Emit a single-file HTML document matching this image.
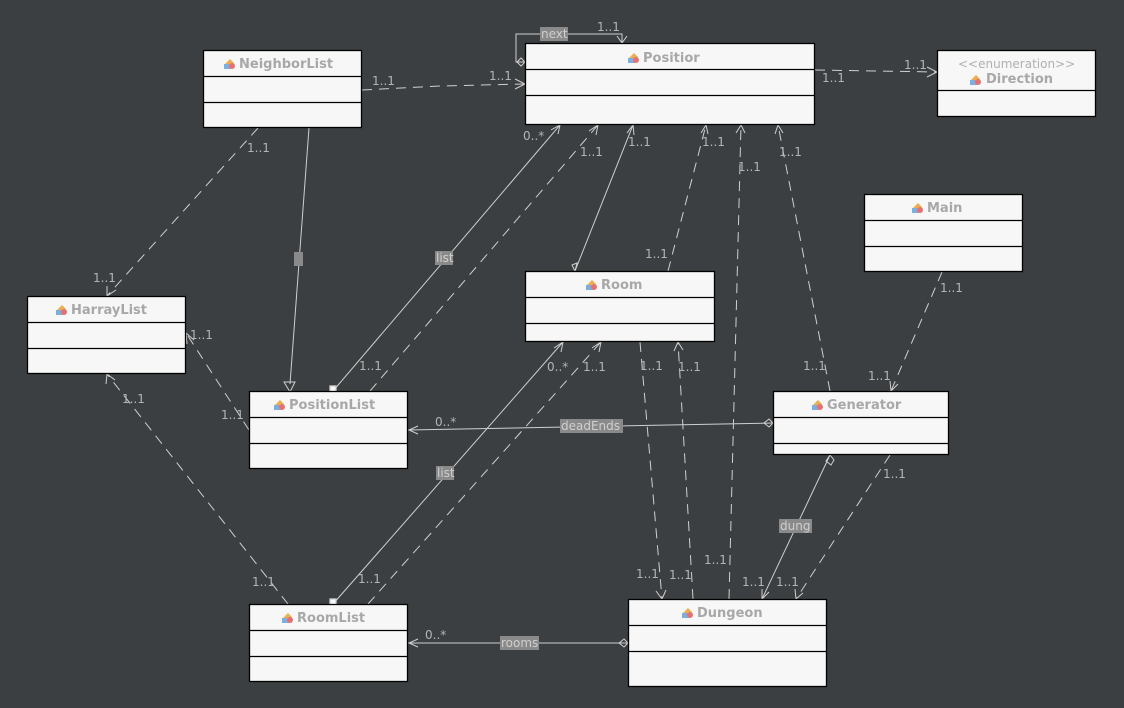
<!DOCTYPE html>
<html><head><style>
body{margin:0;background:#3c3f41;}
svg{display:block}
text{font-family:"DejaVu Sans","Liberation Sans",sans-serif;font-size:12px;fill:#b4b4b4}
.t{font-weight:bold;font-size:13px;fill:#a8a8a8}
.b{fill:#f7f7f7;stroke:#000;stroke-width:1.3}
.s{stroke:#cfcfcf;stroke-width:1;fill:none}
.d{stroke:#cfcfcf;stroke-width:1;fill:none;stroke-dasharray:10 7}
.lb{fill:#8a8a8a}
.lt{fill:#cfcfcf}
</style></head><body>
<svg width="1124" height="708" viewBox="0 0 1124 708" xmlns="http://www.w3.org/2000/svg">
<defs>
<g id="ic"><path d="M0,8 L6,2 L10,6 L4,12Z" fill="#e8b050"/><rect x="0" y="7" width="7" height="5" fill="#7ab0e0"/><circle cx="8" cy="9" r="3" fill="#e87070"/></g>
</defs>
<!-- connectors -->
<g>
<!-- NeighborList -> Positior -->
<path class="d" d="M362,90 L440,86 L525,84"/><path class="s" d="M515,79 L525,84 L515,89"/>
<text x="372" y="85">1..1</text><text x="489" y="80">1..1</text>
<!-- next self -->
<path class="s" d="M525,62 L516,62 L516,34 L622,34 L622,43"/><path class="s" d="M517,62 L521,58 L525,62 L521,66Z"/>
<path class="s" d="M617,36 L622,43 L627,36"/>
<rect x="540" y="27" width="28" height="14" class="lb"/><text x="541" y="38" class="lt">next</text>
<text x="597" y="31">1..1</text>
<!-- Positior -> Direction -->
<path class="d" d="M815,70 L937,72"/><path class="s" d="M927,67 L937,72 L927,77"/>
<text x="822" y="82">1..1</text><text x="904" y="69">1..1</text>
<!-- NeighborList -> HarrayList -->
<path class="d" d="M258,128 L107,296"/><path class="s" d="M107,286 L107,296 L116,290"/>
<text x="247" y="152">1..1</text><text x="93" y="282">1..1</text>
<!-- NeighborList inherit PositionList -->
<path class="s" d="M309,128 L290,384"/><path class="s" d="M284,382 L290,392 L295,382Z"/>
<rect x="294" y="252" width="9" height="14" class="lb"/>
<!-- PositionList -> HarrayList -->
<path class="d" d="M249,430 L186,333"/><path class="s" d="M187,344 L186,333 L194,340"/>
<text x="190" y="339">1..1</text><text x="221" y="419">1..1</text>
<!-- PositionList list -> Positior -->
<path class="s" d="M333,391 L560,125"/><rect x="330" y="386" width="6" height="6" class="b" style="stroke:#cfcfcf"/>
<path class="s" d="M551,130 L560,125 L558,134"/>
<rect x="435" y="251" width="18" height="14" class="lb"/><text x="436" y="262" class="lt">list</text>
<text x="523" y="140">0..*</text><text x="359" y="370">1..1</text>
<path class="d" d="M370,391 L598,125"/><path class="s" d="M589,131 L598,125 L596,135"/>
<text x="580" y="156">1..1</text>
<!-- Room -> Positior -->
<path class="s" d="M575,271 L633,125"/><path class="s" d="M627,133 L633,125 L634,135"/><path class="s" d="M575,271 L572,265 L577,263Z"/>
<text x="628" y="146">1..1</text>
<path class="d" d="M668,271 L706,125"/><path class="s" d="M701,133 L706,125 L708,134"/>
<text x="702" y="146">1..1</text><text x="645" y="258">1..1</text>
<!-- Dungeon -> Positior -->
<path class="d" d="M729,599 L741,125"/><path class="s" d="M736,133 L741,125 L745,133"/>
<text x="738" y="171">1..1</text><text x="704" y="564">1..1</text>
<!-- Generator -> Positior -->
<path class="d" d="M830,391 L778,125"/><path class="s" d="M775,134 L778,125 L783,133"/>
<text x="779" y="156">1..1</text><text x="803" y="370">1..1</text>
<!-- Main -> Generator -->
<path class="d" d="M942,272 L891,391"/><path class="s" d="M890,381 L891,391 L898,384"/>
<text x="940" y="292">1..1</text><text x="868" y="380">1..1</text>
<!-- deadEnds -->
<path class="s" d="M773,423 L408,430"/><path class="s" d="M773,423 L769,419 L764,423 L769,427Z"/>
<path class="s" d="M418,426 L409,430 L418,434"/>
<rect x="560" y="419" width="63" height="14" class="lb"/><text x="561" y="430" class="lt">deadEnds</text>
<text x="435" y="426">0..*</text>
<!-- RoomList -> HarrayList -->
<path class="d" d="M288,604 L107,374"/><path class="s" d="M106,384 L107,374 L115,380"/>
<text x="122" y="403">1..1</text><text x="252" y="586">1..1</text>
<!-- RoomList list -> Room -->
<path class="s" d="M333,604 L563,342"/><rect x="330" y="599" width="6" height="6" class="b" style="stroke:#cfcfcf"/>
<path class="s" d="M554,348 L563,342 L561,352"/>
<rect x="436" y="466" width="18" height="14" class="lb"/><text x="437" y="477" class="lt">list</text>
<text x="547" y="371">0..*</text>
<path class="d" d="M368,604 L601,342"/><path class="s" d="M592,348 L601,342 L599,352"/>
<text x="583" y="371">1..1</text><text x="358" y="583">1..1</text>
<!-- Room <-> Dungeon -->
<path class="d" d="M640,342 L662,599"/><path class="s" d="M656,591 L662,599 L666,590"/>
<text x="640" y="370">1..1</text><text x="636" y="578">1..1</text>
<path class="d" d="M693,599 L678,342"/><path class="s" d="M674,351 L678,342 L683,350"/>
<text x="678" y="371">1..1</text><text x="669" y="579">1..1</text>
<!-- Generator dung -> Dungeon -->
<path class="s" d="M830,455 L762,599"/><path class="s" d="M830,455 L826,461 L831,465 L834,460Z"/>
<path class="s" d="M762,589 L762,599 L769,592"/>
<rect x="779" y="519" width="33" height="14" class="lb"/><text x="780" y="530" class="lt">dung</text>
<text x="742" y="586">1..1</text>
<path class="d" d="M890,455 L796,599"/><path class="s" d="M795,589 L796,599 L803,593"/>
<text x="883" y="478">1..1</text><text x="776" y="586">1..1</text>
<!-- rooms -->
<path class="s" d="M628,643 L408,643"/><path class="s" d="M628,643 L624,639 L619,643 L624,647Z"/>
<path class="s" d="M418,639 L409,643 L418,647"/>
<rect x="500" y="636" width="39" height="14" class="lb"/><text x="501" y="647" class="lt">rooms</text>
<text x="425" y="639">0..*</text>
</g>
<!-- boxes -->
<g>
<rect class="b" x="203.5" y="50.5" width="158" height="77"/><path class="b" d="M203.5,76.5H361.5M203.5,102.5H361.5"/>
<use href="#ic" x="224" y="57"/><text class="t" x="239" y="68">NeighborList</text>

<rect class="b" x="525.5" y="43.5" width="289" height="81"/><path class="b" d="M525.5,69.5H814.5M525.5,95.5H814.5"/>
<use href="#ic" x="628" y="51"/><text class="t" x="643" y="62">Positior</text>

<rect class="b" x="937.5" y="50.5" width="158" height="66"/><path class="b" d="M937.5,90.5H1095.5"/>
<text x="958" y="68" style="font-size:12px;fill:#b0b0b0">&lt;&lt;enumeration&gt;&gt;</text>
<use href="#ic" x="970" y="73"/><text class="t" x="986" y="83">Direction</text>

<rect class="b" x="864.5" y="194.5" width="158" height="77"/><path class="b" d="M864.5,220.5H1022.5M864.5,246.5H1022.5"/>
<use href="#ic" x="912" y="201"/><text class="t" x="927" y="212">Main</text>

<rect class="b" x="27.5" y="296.5" width="158" height="77"/><path class="b" d="M27.5,322.5H185.5M27.5,348.5H185.5"/>
<use href="#ic" x="56" y="303"/><text class="t" x="71" y="314">HarrayList</text>

<rect class="b" x="525.5" y="271.5" width="189" height="70"/><path class="b" d="M525.5,297.5H714.5M525.5,323.5H714.5"/>
<use href="#ic" x="586" y="278"/><text class="t" x="601" y="289">Room</text>

<rect class="b" x="249.5" y="391.5" width="158" height="77"/><path class="b" d="M249.5,417.5H407.5M249.5,443.5H407.5"/>
<use href="#ic" x="274" y="398"/><text class="t" x="289" y="409">PositionList</text>

<rect class="b" x="773.5" y="391.5" width="175" height="63"/><path class="b" d="M773.5,417.5H948.5M773.5,443.5H948.5"/>
<use href="#ic" x="812" y="398"/><text class="t" x="827" y="409">Generator</text>

<rect class="b" x="249.5" y="604.5" width="158" height="77"/><path class="b" d="M249.5,630.5H407.5M249.5,656.5H407.5"/>
<use href="#ic" x="282" y="611"/><text class="t" x="297" y="622">RoomList</text>

<rect class="b" x="628.5" y="599.5" width="198" height="87"/><path class="b" d="M628.5,625.5H826.5M628.5,651.5H826.5"/>
<use href="#ic" x="682" y="606"/><text class="t" x="697" y="617">Dungeon</text>
</g>
</svg>
</body></html>
